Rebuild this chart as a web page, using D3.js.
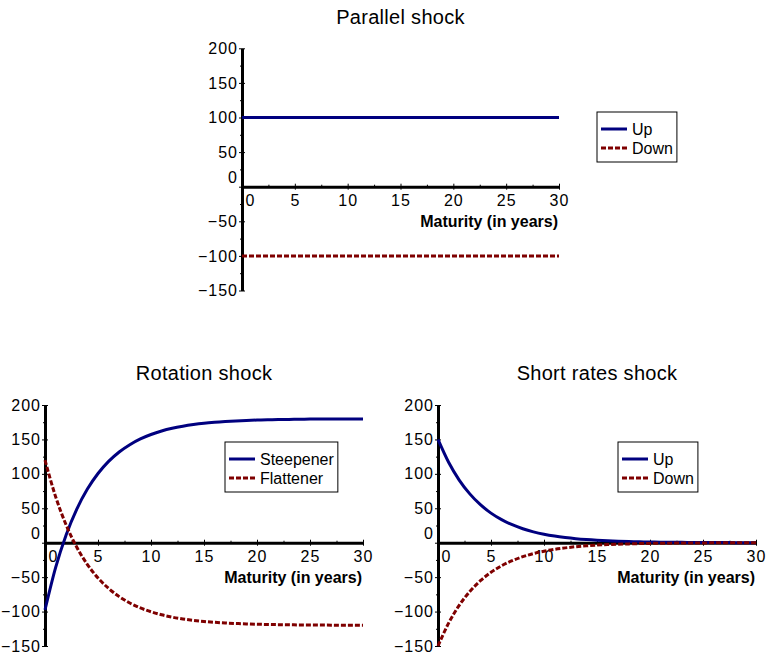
<!DOCTYPE html>
<html>
<head>
<meta charset="utf-8">
<script src="https://cdn.jsdelivr.net/npm/d3@7"></script>
<style>
  html, body { margin: 0; padding: 0; background: #fff; }
  svg { display: block; }
  text { font-family: "Liberation Sans", Arial, sans-serif; fill: #000; }
</style>
</head>
<body>
<svg id="chart" width="766" height="654"></svg>
<script>
// ---------------- data ----------------
const xTickValues = [0, 5, 10, 15, 20, 25, 30];
const yTickValues = [-150, -100, -50, 0, 50, 100, 150, 200];

const parallelMaturities = [0, 30];
const parallelUp = [100, 100];
const parallelDown = [-100, -100];

const maturities = [0,1,2,3,4,5,6,7,8,9,10,11,12,13,14,15,16,17,18,19,20,21,22,23,24,25,26,27,28,29,30];

const steepener = [-97.5,-36.1,11.7,48.9,77.9,100.5,118.1,131.8,142.4,150.8,157.2,162.3,166.2,169.2,171.6,173.5,
  174.9,176.0,176.9,177.6,178.1,178.5,178.9,179.1,179.3,179.5,179.6,179.7,179.7,179.8,179.8];
const flattener = [120,66.9,25.6,-6.6,-31.7,-51.2,-66.4,-78.3,-87.5,-94.7,-100.3,-104.7,-108.1,-110.7,-112.8,-114.4,
  -115.6,-116.6,-117.3,-117.9,-118.4,-118.7,-119.0,-119.2,-119.4,-119.5,-119.6,-119.7,-119.8,-119.8,-119.9];

const shortUp = [150,116.8,91.0,70.9,55.2,43.0,33.5,26.1,20.3,15.8,12.3,9.6,7.5,5.8,4.5,3.5,
  2.7,2.1,1.7,1.3,1.0,0.8,0.6,0.5,0.4,0.3,0.2,0.2,0.1,0.1,0.1];
const shortDown = [-150,-116.8,-91.0,-70.9,-55.2,-43.0,-33.5,-26.1,-20.3,-15.8,-12.3,-9.6,-7.5,-5.8,-4.5,-3.5,
  -2.7,-2.1,-1.7,-1.3,-1.0,-0.8,-0.6,-0.5,-0.4,-0.3,-0.2,-0.2,-0.1,-0.1,-0.1];

const titles = ["Parallel shock", "Rotation shock", "Short rates shock"];
const xAxisLabel = "Maturity (in years)";
const legendParallel = ["Up", "Down"];
const legendRotation = ["Steepener", "Flattener"];
const legendShort = ["Up", "Down"];

// ---------------- drawing ----------------
const svg = d3.select("#chart");
const BLUE = "#00007f";
const RED = "#7f0000";
const fmt = v => (v < 0 ? "\u2212" + Math.abs(v) : String(v));

function panel(cfg) {
  const g = svg.append("g");
  const x = d3.scaleLinear().domain([0, 30]).range([cfg.x0, cfg.x1]);
  const y = d3.scaleLinear().domain([-150, 200]).range([cfg.yb, cfg.yt]);

  // title
  g.append("text")
    .attr("x", (cfg.x0 + cfg.x1) / 2).attr("y", cfg.titleY)
    .attr("text-anchor", "middle").style("font-size", "20px").style("letter-spacing", "0.3px")
    .text(cfg.title);

  // minor ticks
  const xMinor = d3.range(2.5, 30, 5);
  const yMinor = d3.range(-125, 200, 50);
  const gxm = g.append("g").attr("transform", `translate(0,${y(0)})`)
    .call(d3.axisBottom(x).tickValues(xMinor).tickFormat("").tickSize(0).tickSizeOuter(0));
  gxm.select(".domain").remove();
  gxm.selectAll(".tick line").attr("y1", -2).attr("y2", 1).attr("stroke-width", 1);
  const gym = g.append("g").attr("transform", `translate(${x(0)},0)`)
    .call(d3.axisLeft(y).tickValues(yMinor).tickFormat("").tickSize(0).tickSizeOuter(0));
  gym.select(".domain").remove();
  gym.selectAll(".tick line").attr("x1", -2).attr("x2", 2).attr("stroke-width", 1);

  // x axis
  const gx = g.append("g").attr("transform", `translate(0,${y(0)})`)
    .call(d3.axisBottom(x).tickValues(xTickValues).tickFormat(fmt).tickSize(0).tickPadding(8).tickSizeOuter(0));
  gx.select(".domain").attr("stroke-width", 3).attr("stroke", "#000");
  gx.selectAll(".tick line").attr("y1", -3).attr("y2", 3).attr("stroke-width", 1);
  gx.selectAll(".tick text").style("font-size", "16px").style("font-family", "'Liberation Sans', Arial, sans-serif")
    .style("letter-spacing", "1px").attr("fill", "#000");
  gx.selectAll(".tick").filter(d => d === 0).select("text").attr("text-anchor", "start").attr("x", 3);

  // y axis
  const gy = g.append("g").attr("transform", `translate(${x(0)},0)`)
    .call(d3.axisLeft(y).tickValues(yTickValues).tickFormat(fmt).tickSize(0).tickPadding(4).tickSizeOuter(0));
  gy.select(".domain").attr("stroke-width", 3).attr("stroke", "#000");
  gy.selectAll(".tick line").attr("x1", -3).attr("x2", 3).attr("stroke-width", 1);
  gy.selectAll(".tick text").style("font-size", "16px").style("font-family", "'Liberation Sans', Arial, sans-serif")
    .style("letter-spacing", "1px").attr("fill", "#000");
  gy.selectAll(".tick").filter(d => d === 0).select("text").attr("y", -9);

  // axis label
  g.append("text")
    .attr("x", cfg.x1 - 1).attr("y", y(0) + 40)
    .attr("text-anchor", "end").style("font-size", "16px").style("font-weight", "bold")
    .text(xAxisLabel);

  // curves
  const line = d3.line().x(d => x(d[0])).y(d => y(d[1])).curve(d3.curveMonotoneX);
  cfg.series.forEach(s => {
    g.append("path")
      .datum(s.xs.map((m, i) => [m, s.ys[i]]))
      .attr("d", line)
      .attr("fill", "none")
      .attr("stroke", s.color)
      .attr("stroke-width", 3)
      .attr("stroke-dasharray", s.dash ? "5,2" : null);
  });

  // legend
  const lg = g.append("g").attr("transform", `translate(${cfg.legX},${cfg.legY})`);
  const box = lg.append("rect").attr("fill", "#fff").attr("stroke", "#000").attr("stroke-width", 1);
  let maxW = 0;
  cfg.series.forEach((s, i) => {
    const cy = 17 + i * 19;
    lg.append("line").attr("x1", 4).attr("x2", 30).attr("y1", cy).attr("y2", cy)
      .attr("stroke", s.color).attr("stroke-width", 3)
      .attr("stroke-dasharray", s.dash ? "5,2" : null);
    const t = lg.append("text").attr("x", 35).attr("y", cy + 6).style("font-size", "16px").text(s.name);
    maxW = Math.max(maxW, t.node().getComputedTextLength());
  });
  box.attr("x", 0).attr("y", 0).attr("width", 35 + maxW + 4).attr("height", 50);
}

panel({
  x0: 242, x1: 559, yt: 48.3, yb: 290.5, titleY: 24, title: titles[0],
  legX: 597, legY: 112,
  series: [
    { name: legendParallel[0], xs: parallelMaturities, ys: parallelUp, color: BLUE, dash: false },
    { name: legendParallel[1], xs: parallelMaturities, ys: parallelDown, color: RED, dash: true }
  ]
});

panel({
  x0: 45, x1: 363, yt: 405, yb: 646, titleY: 380, title: titles[1],
  legX: 225, legY: 442,
  series: [
    { name: legendRotation[0], xs: maturities, ys: steepener, color: BLUE, dash: false },
    { name: legendRotation[1], xs: maturities, ys: flattener, color: RED, dash: true }
  ]
});

panel({
  x0: 438, x1: 756, yt: 405, yb: 646, titleY: 380, title: titles[2],
  legX: 618, legY: 442,
  series: [
    { name: legendShort[0], xs: maturities, ys: shortUp, color: BLUE, dash: false },
    { name: legendShort[1], xs: maturities, ys: shortDown, color: RED, dash: true }
  ]
});
</script>
</body>
</html>
